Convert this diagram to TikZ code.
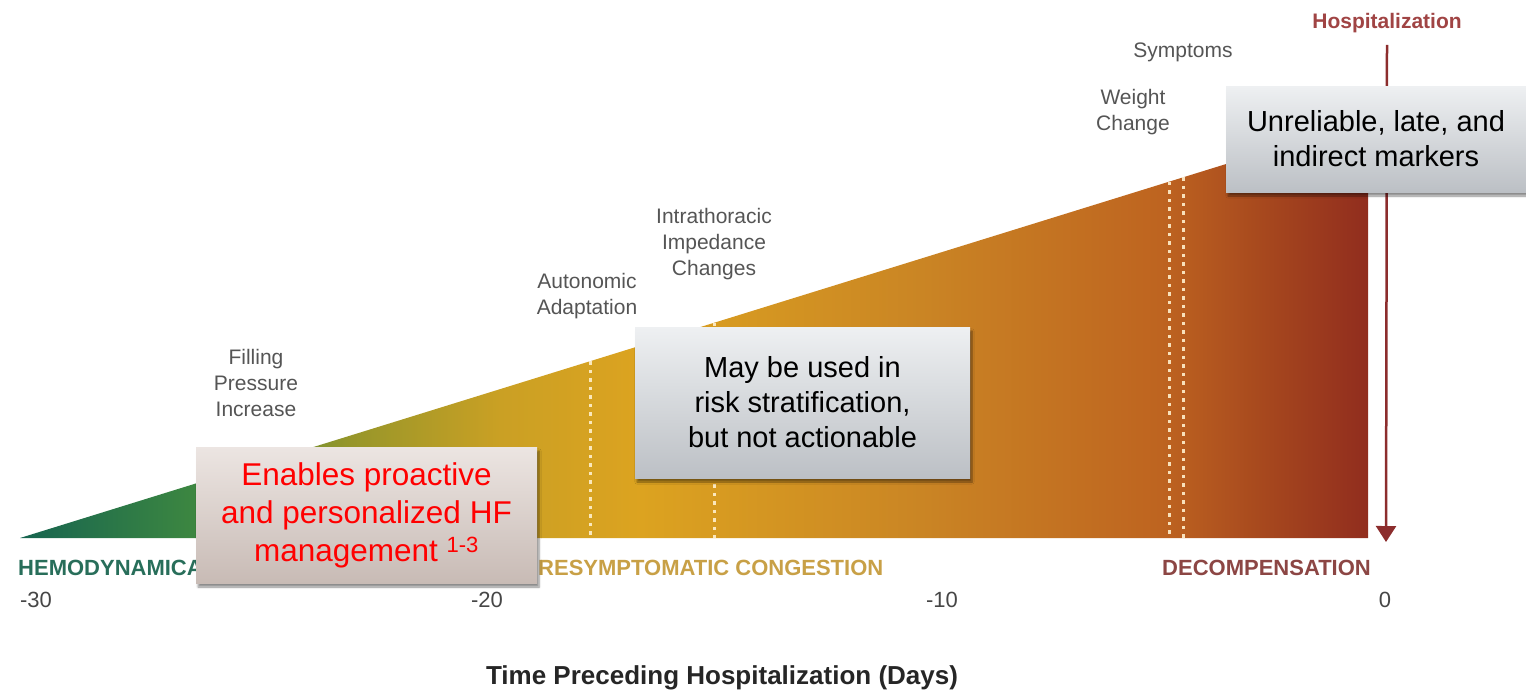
\documentclass[tikz,border=0pt]{standalone}
\usepackage{fontspec}
\setmainfont{Liberation Sans}
\usetikzlibrary{arrows.meta,shadows.blur}

\definecolor{labelgray}{RGB}{85,85,85}
\definecolor{tickgray}{RGB}{70,70,70}
\definecolor{hemogreen}{RGB}{40,110,90}
\definecolor{presymgold}{RGB}{200,160,70}
\definecolor{decompred}{RGB}{140,70,68}
\definecolor{hospred}{RGB}{160,68,68}
\definecolor{arrowred}{RGB}{140,45,45}
\definecolor{markerdot}{RGB}{255,240,205}
\definecolor{grayboxtop}{RGB}{238,240,242}
\definecolor{grayboxbottom}{RGB}{188,192,197}
\definecolor{pinkboxtop}{RGB}{236,229,226}
\definecolor{pinkboxbottom}{RGB}{200,187,181}

% colours along the band, left to right
\definecolor{bandA}{RGB}{22,100,80}
\definecolor{bandB}{RGB}{62,136,64}
\definecolor{bandC}{RGB}{150,150,42}
\definecolor{bandD}{RGB}{202,160,36}
\definecolor{bandE}{RGB}{220,163,32}
\definecolor{bandF}{RGB}{202,133,36}
\definecolor{bandG}{RGB}{190,100,32}
\definecolor{bandH}{RGB}{165,70,30}
\definecolor{bandI}{RGB}{145,45,30}
\pgfdeclarehorizontalshading{hfband}{100bp}{color(0bp)=(bandA); color(25bp)=(bandA);
  color(31.7bp)=(bandB); color(37.2bp)=(bandC); color(42.8bp)=(bandD);
  color(48bp)=(bandE); color(58.4bp)=(bandF); color(67.3bp)=(bandG);
  color(71.4bp)=(bandH); color(75bp)=(bandI); color(100bp)=(bandI)}

\begin{document}
\begin{tikzpicture}[x=1pt,y=-1pt,
    every node/.style={inner sep=0pt},
    stage/.style={font=\fontsize{21}{26}\selectfont, text=labelgray, align=center},
    phase/.style={font=\fontsize{22}{26}\selectfont\bfseries},
    tick/.style={font=\fontsize{22}{26}\selectfont, text=tickgray},
    marker/.style={markerdot, line width=3pt, dash pattern=on 3.5pt off 5pt, opacity=0.9},
    callout/.style={align=center, blur shadow={shadow xshift=2pt, shadow yshift=-4pt,
        shadow blur steps=6, shadow opacity=45}},
    graybox/.style={callout, top color=grayboxtop, bottom color=grayboxbottom,
        font=\fontsize{29}{35}\selectfont}]
    \useasboundingbox (0,0) rectangle (1526,691);

    % the congestion band
    \coordinate (start) at (20,538);
    \coordinate (peak) at (1368,120);
    \coordinate (end) at (1368,538);
    \shade[shading=hfband] (start) -- (peak) -- (end) -- cycle;

    % event markers
    \foreach \x in {590,714,1169,1183}
        \draw[marker] (\x,{538-0.31*(\x-20)}) -- (\x,538);

    \node[stage] (filling) at (256,383) {Filling\\Pressure\\Increase};
    \node[stage] (autonomic) at (587,296) {Autonomic\\Adaptation};
    \node[stage] (impedance) at (714,244) {Intrathoracic\\Impedance\\Changes};
    \node[stage] (weight) at (1133,112) {Weight\\Change};
    \node[stage] (symptoms) at (1183,52) {Symptoms};

    % hospitalization arrow
    \node[phase, text=hospred, font=\fontsize{21}{26}\selectfont\bfseries] (hosp) at (1387,23) {Hospitalization};
    \coordinate (admit) at (1386,542);
    \draw[arrowred, line width=2.5pt, -{Triangle[width=20pt,length=16pt]}]
        ([yshift=-12pt]hosp.south) -- (admit);

    % phases and days
    \node[phase, text=hemogreen, anchor=west] (hemo) at (18,568) {HEMODYNAMICA};
    \node[phase, text=presymgold, anchor=west] (presym) at (538,568) {RESYMPTOMATIC CONGESTION};
    \node[phase, text=decompred, anchor=east] (decomp) at (1371,568) {DECOMPENSATION};
    \foreach \d/\x [count=\i] in {-30/36,-20/487,-10/942,0/1385}
        \node[tick] (day\i) at (\x,600) {\d};
    \node[phase, text=black!85, font=\fontsize{26}{30}\selectfont\bfseries] (axis) at (722,678)
        {Time Preceding Hospitalization (Days)};

    % callouts
    \node[callout, top color=pinkboxtop, bottom color=pinkboxbottom,
        minimum width=341pt, minimum height=136pt, text=red,
        font=\fontsize{31.5}{38}\selectfont] (early) at (366.5,515)
        {Enables proactive\\and personalized HF\\management \textsuperscript{1-3}};
    \node[graybox, minimum width=335pt, minimum height=151pt] (middle) at (802.5,402.5)
        {May be used in\\risk stratification,\\but not actionable};
    \node[graybox, minimum width=300pt, minimum height=106pt] (late) at (1376,139)
        {Unreliable, late, and\\indirect markers};
\end{tikzpicture}
\end{document}
